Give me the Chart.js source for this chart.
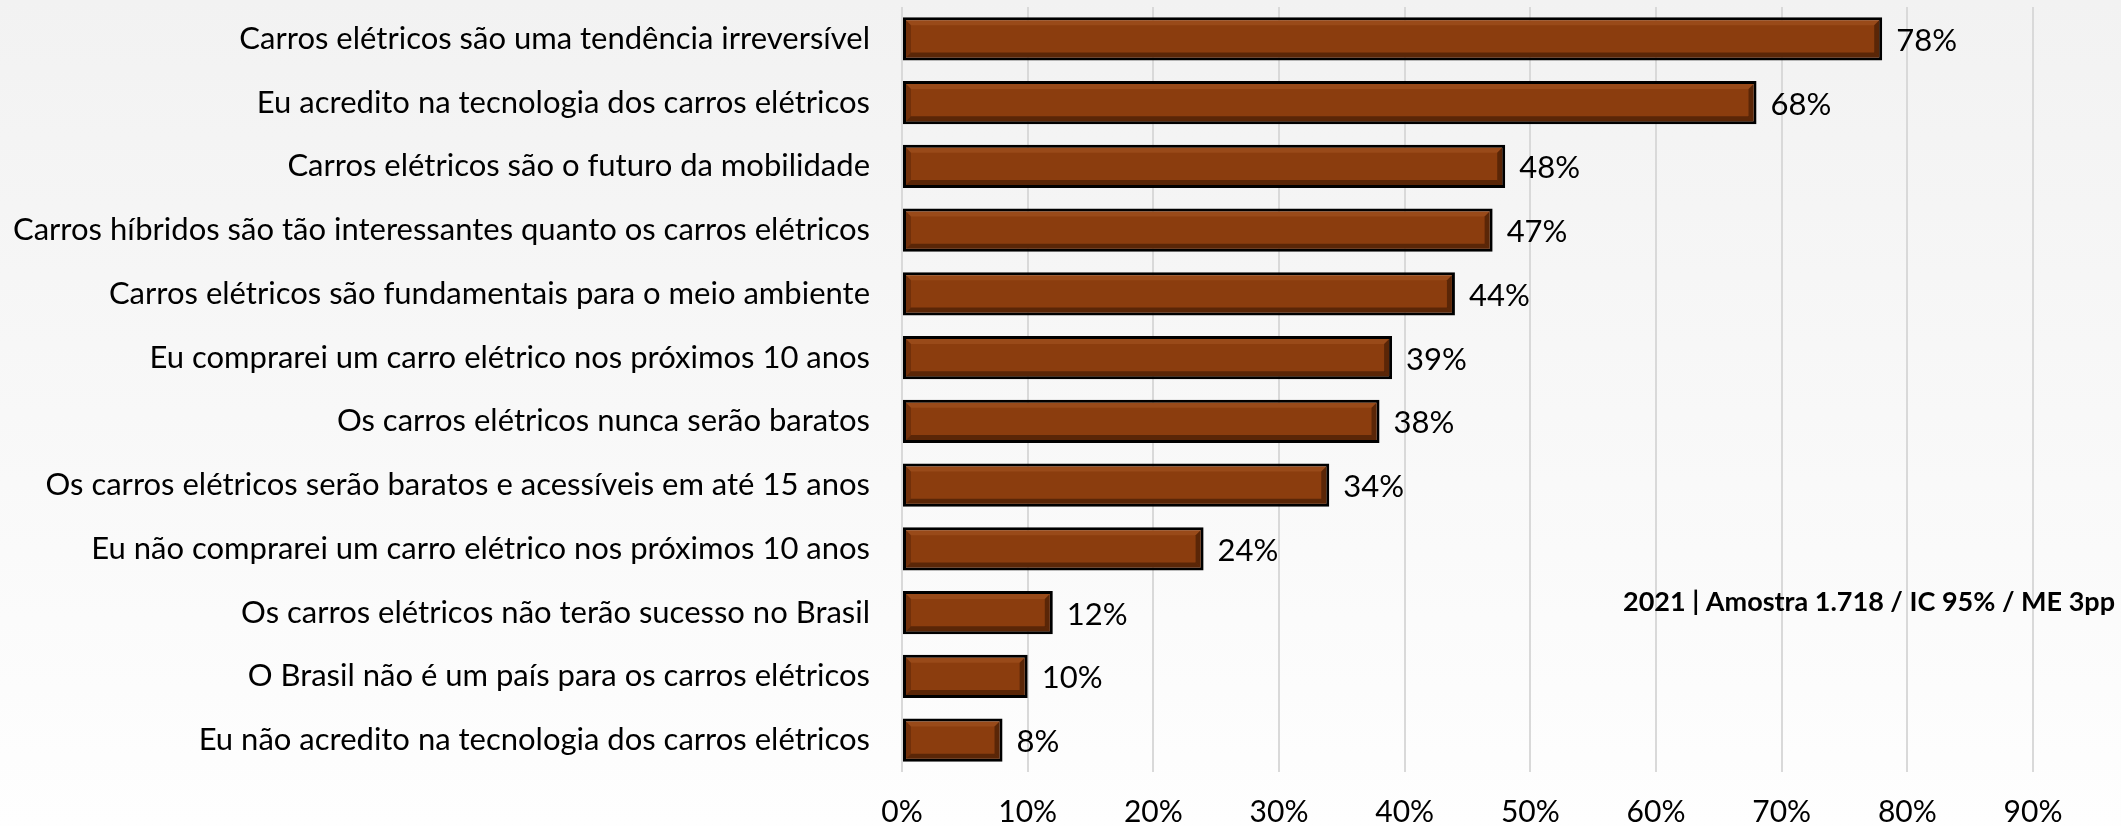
<!DOCTYPE html>
<html>
<head>
<meta charset="utf-8">
<script src="https://cdn.jsdelivr.net/npm/chart.js@4.4.0/dist/chart.umd.min.js"></script>
<style>
  html, body { margin: 0; padding: 0; background: #fff; }
  #wrap { width: 2121px; height: 826px; position: relative; }
</style>
</head>
<body>
<div id="wrap"><canvas id="myChart"></canvas></div>
<script>
const categorias = [
  'Carros elétricos são uma tendência irreversível',
  'Eu acredito na tecnologia dos carros elétricos',
  'Carros elétricos são o futuro da mobilidade',
  'Carros híbridos são tão interessantes quanto os carros elétricos',
  'Carros elétricos são fundamentais para o meio ambiente',
  'Eu comprarei um carro elétrico nos próximos 10 anos',
  'Os carros elétricos nunca serão baratos',
  'Os carros elétricos serão baratos e acessíveis em até 15 anos',
  'Eu não comprarei um carro elétrico nos próximos 10 anos',
  'Os carros elétricos não terão sucesso no Brasil',
  'O Brasil não é um país para os carros elétricos',
  'Eu não acredito na tecnologia dos carros elétricos'
];
const valores = [78, 68, 48, 47, 44, 39, 38, 34, 24, 12, 10, 8];
const eixoMax = 90;
const passo = 10;
const nota = '2021 | Amostra 1.718 / IC 95% / ME 3pp';

const fonte = 'Lato, "Liberation Sans", sans-serif';

// fundo em degradê
const fundo = {
  id: 'fundo',
  beforeDraw(chart) {
    const c = chart.ctx;
    const g = c.createLinearGradient(0, 0, 0, chart.height);
    g.addColorStop(0, '#f2f2f2');
    g.addColorStop(1, '#fefefe');
    c.save();
    c.fillStyle = g;
    c.fillRect(0, 0, chart.width, chart.height);
    c.restore();
  }
};

// chanfro das barras + rótulos de valor
const barras = {
  id: 'barras',
  afterDatasetsDraw(chart) {
    const c = chart.ctx;
    const meta = chart.getDatasetMeta(0);
    c.save();
    meta.data.forEach((el, i) => {
      const b = 3, bv = 5;
      const x0 = el.base + b, x1 = el.x - b;
      const y0 = el.y - el.height / 2 + b, y1 = el.y + el.height / 2 - b;
      // topo
      c.fillStyle = 'rgba(255,170,110,0.12)';
      c.beginPath();
      c.moveTo(x0, y0); c.lineTo(x1, y0); c.lineTo(x1 - bv, y0 + bv); c.lineTo(x0 + bv, y0 + bv);
      c.fill();
      // base
      c.fillStyle = 'rgba(30,10,0,0.45)';
      c.beginPath();
      c.moveTo(x0, y1); c.lineTo(x1, y1); c.lineTo(x1 - bv, y1 - bv); c.lineTo(x0 + bv, y1 - bv);
      c.fill();
      // esquerda
      c.fillStyle = 'rgba(40,10,0,0.25)';
      c.beginPath();
      c.moveTo(x0, y0); c.lineTo(x0 + bv, y0 + bv); c.lineTo(x0 + bv, y1 - bv); c.lineTo(x0, y1);
      c.fill();
      // direita
      c.fillStyle = 'rgba(30,10,0,0.45)';
      c.beginPath();
      c.moveTo(x1, y0); c.lineTo(x1 - bv, y0 + bv); c.lineTo(x1 - bv, y1 - bv); c.lineTo(x1, y1);
      c.fill();

      c.fillStyle = '#000';
      c.font = '31px ' + fonte;
      c.textAlign = 'left';
      c.textBaseline = 'middle';
      c.fillText(valores[i] + '%', el.x + 14, el.y + 2);
    });
    c.restore();
  },
  afterDraw(chart) {
    const c = chart.ctx;
    c.save();
    c.fillStyle = '#000';
    c.font = 'bold 27px ' + fonte;
    c.textAlign = 'right';
    c.textBaseline = 'middle';
    c.fillText(nota, chart.width - 6, 602);
    c.restore();
  }
};

const ctx = document.getElementById('myChart');

new Chart(ctx, {
  type: 'bar',
  data: {
    labels: categorias,
    datasets: [{
      data: valores,
      backgroundColor: 'rgb(139,61,14)',
      borderColor: '#000',
      borderWidth: 3,
      borderSkipped: false,
      categoryPercentage: 1,
      barPercentage: 0.68
    }]
  },
  options: {
    indexAxis: 'y',
    responsive: true,
    maintainAspectRatio: false,
    animation: false,
    devicePixelRatio: 1,
    layout: { padding: { top: 7, right: 88, bottom: 0, left: 0 } },
    plugins: {
      legend: { display: false },
      tooltip: { enabled: false }
    },
    scales: {
      x: {
        min: 0,
        max: eixoMax,
        ticks: {
          stepSize: passo,
          callback: v => v + '%',
          color: '#000',
          font: { family: fonte, size: 30 },
          padding: 22,
          maxRotation: 0
        },
        grid: { color: '#d9d9d9', lineWidth: 2, drawTicks: false },
        border: { display: false },
        afterFit(scale) { scale.height = 54; }
      },
      y: {
        ticks: {
          color: '#000',
          font: { family: fonte, size: 31 },
          padding: 32
        },
        grid: { display: false, drawTicks: false },
        border: { display: false },
        afterFit(scale) {
          scale.width = 902;
          scale.paddingTop = 0;
          scale.paddingBottom = 0;
        }
      }
    }
  },
  plugins: [fundo, barras]
});
</script>
</body>
</html>
